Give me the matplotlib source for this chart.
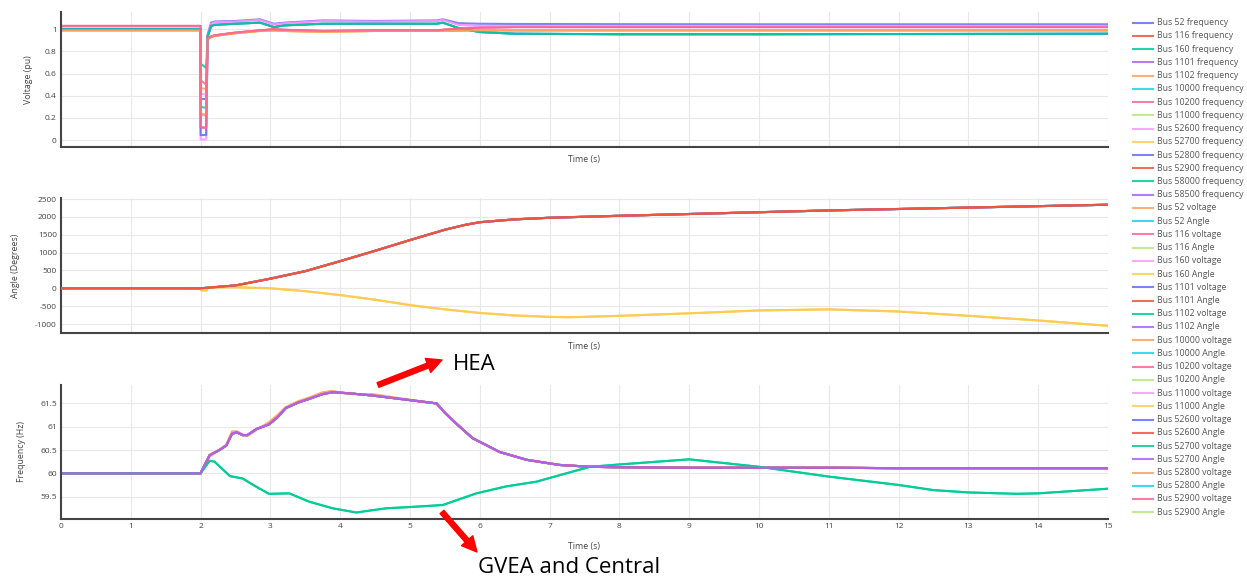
#Libraries for the arrays and the plot
import numpy as np
import matplotlib.pyplot as plt

plt.rcParams['font.family'] = ['Open Sans', 'DejaVu Sans']

#Colour cycle of the traces (same order as the legend)
colores = ['#636efa', '#EF553B', '#00cc96', '#ab63fa', '#FFA15A',
           '#19d3f3', '#FF6692', '#B6E880', '#FF97FF', '#FECB52']

#Bus names
buses_frec = ['52', '116', '160', '1101', '1102', '10000', '10200', '11000',
              '52600', '52700', '52800', '52900', '58000', '58500']
buses_va = buses_frec[:12]

#Legend labels: frequency first, then voltage / Angle pairs
etiquetas = ['Bus %s frequency' % b for b in buses_frec]
for b in buses_va:
    etiquetas.append('Bus %s voltage' % b)
    etiquetas.append('Bus %s Angle' % b)

#---------------- Voltage (pu) ----------------
#Pre fault level of each voltage group
v_pre = {'A': 1.0, 'B': 1.025, 'C': 1.0, 'D': 0.99, 'E': 1.03}
#Time points after clearing the fault
t_post = [2.1, 2.15, 2.2, 2.5, 2.85, 3.05, 3.2, 3.75, 4.5, 5.38, 5.47, 5.7, 6.0, 6.5, 8, 10, 12, 15]
v_post_A = [0.95, 1.06, 1.07, 1.075, 1.09, 1.05, 1.06, 1.08, 1.075, 1.08, 1.09, 1.055, 1.05, 1.048, 1.046, 1.045, 1.045, 1.045]
v_post_B = [0.94, 1.05, 1.065, 1.07, 1.085, 1.045, 1.055, 1.075, 1.07, 1.075, 1.085, 1.04, 1.03, 1.03, 1.03, 1.03, 1.03, 1.03]
v_post_C = [0.93, 1.03, 1.04, 1.05, 1.06, 1.02, 1.035, 1.05, 1.05, 1.05, 1.06, 1.01, 0.975, 0.96, 0.955, 0.955, 0.957, 0.96]
v_post_D = [0.91, 0.93, 0.94, 0.965, 0.985, 0.99, 0.985, 0.978, 0.985, 0.985, 0.985, 0.988, 0.99, 0.99, 0.99, 0.99, 0.99, 0.99]
v_post_E = [0.92, 0.935, 0.945, 0.97, 0.99, 1.0, 0.995, 0.985, 0.99, 0.99, 0.995, 1.005, 1.015, 1.02, 1.02, 1.02, 1.02, 1.02]
v_post = {'A': v_post_A, 'B': v_post_B, 'C': v_post_C, 'D': v_post_D, 'E': v_post_E}
#Group of every bus and its voltage during the fault (start, end)
v_grupo = ['D', 'E', 'B', 'A', 'C', 'D', 'E', 'B', 'C', 'C', 'D', 'E']
dip_ini = [0.47, 0.54, 0.42, 0.37, 0.69, 0.23, 0.11, 0.005, 0.045, 0.30, 0.24, 0.12]
dip_fin = [0.46, 0.50, 0.41, 0.37, 0.65, 0.22, 0.11, 0.005, 0.045, 0.29, 0.23, 0.11]

#---------------- Angle (Degrees) ----------------
t_ang_up = [0, 2.0, 2.5, 3, 3.5, 4, 4.5, 5, 5.5, 5.8, 6, 6.5, 7, 8, 9, 10, 11, 12, 13, 14, 15]
ang_up = [0, 0, 80, 270, 480, 760, 1050, 1350, 1640, 1780, 1850, 1930, 1975, 2030, 2080, 2130, 2180, 2220, 2260, 2300, 2340]
t_ang_dn = [0, 2.0, 2.01, 2.09, 2.1, 2.5, 3, 3.5, 4, 4.5, 5, 5.5, 6, 6.5, 7, 7.3, 8, 9, 10, 11, 12, 13, 14, 15]
ang_dn = [0, 0, -60, -60, 20, 30, 0, -80, -190, -320, -470, -590, -690, -760, -800, -810, -770, -700, -620, -590, -650, -770, -900, -1050]
#Yellow buses go down, the rest go up
ang_baja = ['160', '11000']

#---------------- Frequency (Hz) ----------------
t_hea = [0, 2.0, 2.13, 2.27, 2.37, 2.45, 2.52, 2.6, 2.67, 2.8, 2.98, 3.1, 3.22, 3.4, 3.56, 3.75, 3.89,
         4.1, 4.46, 5.0, 5.38, 5.5, 5.61, 5.75, 5.9, 6.1, 6.28, 6.67, 7.14, 7.58, 8, 9, 10, 11, 12, 13, 14, 15]
f_hea = [60, 60, 60.39, 60.5, 60.6, 60.85, 60.88, 60.82, 60.82, 60.95, 61.05, 61.2, 61.4, 61.52, 61.6, 61.7, 61.74,
         61.72, 61.67, 61.57, 61.5, 61.3, 61.14, 60.95, 60.75, 60.6, 60.46, 60.29, 60.18, 60.14, 60.13, 60.12,
         60.12, 60.12, 60.11, 60.11, 60.11, 60.11]
f_hea2 = [60, 60, 60.36, 60.5, 60.62, 60.9, 60.9, 60.84, 60.8, 60.93, 61.1, 61.25, 61.42, 61.55, 61.63, 61.74, 61.77,
          61.7, 61.7, 61.58, 61.5, 61.3, 61.14, 60.95, 60.75, 60.6, 60.46, 60.29, 60.18, 60.14, 60.13, 60.12,
          60.12, 60.12, 60.11, 60.11, 60.11, 60.11]
t_gvea = [0, 2.0, 2.13, 2.2, 2.42, 2.6, 2.8, 2.98, 3.27, 3.56, 3.89, 4.23, 4.66, 5.04, 5.47, 5.95, 6.38,
          6.81, 7.24, 7.58, 8, 9, 10, 11, 12, 12.5, 13, 13.7, 14, 15]
f_gvea = [60, 60, 60.27, 60.25, 59.94, 59.89, 59.71, 59.56, 59.57, 59.39, 59.25, 59.16, 59.25, 59.28, 59.32,
          59.57, 59.72, 59.82, 60.0, 60.14, 60.19, 60.3, 60.14, 59.93, 59.75, 59.64, 59.59, 59.56, 59.57, 59.67]
frec_gvea = ['160', '58000']
frec_naranja = ['1102']

#Figure size in pixels
W, H = 1247, 581


def caja(x0, y0, x1, y1):
    """Axes rectangle from pixel corners (top-left origin)."""
    return [x0 / W, 1 - y1 / H, (x1 - x0) / W, (y1 - y0) / H]


def estilo(ax, ylim, yticks, ylabel, xlab_px, y_px, etiquetas_x=False):
    """Plotly-like look for one panel."""
    ax.set_xlim(0, 15)
    ax.set_ylim(*ylim)
    ax.set_xticks(range(16))
    ax.set_yticks(yticks)
    ax.set_yticklabels(['%g' % v for v in yticks])
    ax.grid(True, color='#e8e8e8', lw=0.8)
    ax.set_axisbelow(True)
    for lado in ['top', 'right']:
        ax.spines[lado].set_visible(False)
    for lado in ['left', 'bottom']:
        ax.spines[lado].set_color('#444444')
        ax.spines[lado].set_linewidth(1.5)
    ax.tick_params(length=0, labelsize=6, colors='#444444', pad=3, labelbottom=etiquetas_x)
    ax.set_ylabel(ylabel, fontsize=6.3, color='#444444')
    ax.yaxis.set_label_coords((xlab_px - 61) / 1047, 0.5)
    ax.set_xlabel('Time (s)', fontsize=6.3, color='#444444')
    ax.xaxis.set_label_coords(0.5, -y_px / ax.get_position().height / H)


fig = plt.figure(figsize=(W / 100, H / 100), dpi=100)
ax_v = fig.add_axes(caja(61, 12, 1108, 147))
ax_a = fig.add_axes(caja(61, 198, 1108, 333))
ax_f = fig.add_axes(caja(61, 385, 1108, 519))

#Voltage traces
for i, b in enumerate(buses_va):
    g = v_grupo[i]
    t = [0, 2.0, 2.0, 2.08] + t_post
    v = [v_pre[g], v_pre[g], dip_ini[i], dip_fin[i]] + v_post[g]
    col = colores[etiquetas.index('Bus %s voltage' % b) % 10]
    ax_v.plot(t, v, color=col, lw=1.5, alpha=0.85)

#Angle traces (red ones drawn on top)
orden_ang = {'#EF553B': 4, '#ab63fa': 3}
for b in buses_va:
    col = colores[etiquetas.index('Bus %s Angle' % b) % 10]
    if b in ang_baja:
        ax_a.plot(t_ang_dn, ang_dn, color=col, lw=1.5, alpha=0.9, zorder=3)
    else:
        ax_a.plot(t_ang_up, ang_up, color=col, lw=1.5, alpha=0.85, zorder=orden_ang.get(col, 2))

#Frequency traces
for b in buses_frec:
    col = colores[etiquetas.index('Bus %s frequency' % b) % 10]
    if b in frec_gvea:
        ax_f.plot(t_gvea, f_gvea, color=col, lw=1.5, alpha=0.9)
    elif b in frec_naranja:
        ax_f.plot(t_hea, f_hea2, color=col, lw=1.5, alpha=0.9)
    else:
        ax_f.plot(t_hea, f_hea, color=col, lw=1.5, alpha=0.9)

estilo(ax_v, (-0.063, 1.156), [0, 0.2, 0.4, 0.6, 0.8, 1], 'Voltage (pu)', 33, 8)
estilo(ax_a, (-1251, 2528), [-1000, -500, 0, 500, 1000, 1500, 2000, 2500], 'Angle (Degrees)', 20, 9)
estilo(ax_f, (59.02, 61.895), [59.5, 60, 60.5, 61, 61.5], 'Frequency (Hz)', 26, 23, etiquetas_x=True)

#Legend drawn at the right, one row every 13.2 px
for i, lab in enumerate(etiquetas):
    y = 1 - (22.7 + i * 13.23) / H
    fig.add_artist(plt.Line2D([1133 / W, 1153 / W], [y, y], color=colores[i % 10], lw=1.5, alpha=0.85))
    fig.text(1157 / W, y, lab, fontsize=6.3, color='#555555', va='center', ha='left')

#Red arrows and notes
flecha = dict(arrowstyle='simple,head_length=0.9,head_width=0.9,tail_width=0.3', color='red',
              shrinkA=0, shrinkB=0, mutation_scale=12)
ax_f.annotate('', xy=(442, H - 360), xytext=(378, H - 385), xycoords='figure pixels',
              textcoords='figure pixels', arrowprops=flecha, annotation_clip=False)
ax_f.annotate('', xy=(477, H - 552), xytext=(442, H - 512), xycoords='figure pixels',
              textcoords='figure pixels', arrowprops=flecha, annotation_clip=False)
fig.text(453 / W, 1 - 370 / H, 'HEA', fontsize=16, va='baseline', ha='left')
fig.text(478 / W, 1 - 573 / H, 'GVEA and Central', fontsize=16, va='baseline', ha='left')

fig.savefig('out.png', dpi=100)
